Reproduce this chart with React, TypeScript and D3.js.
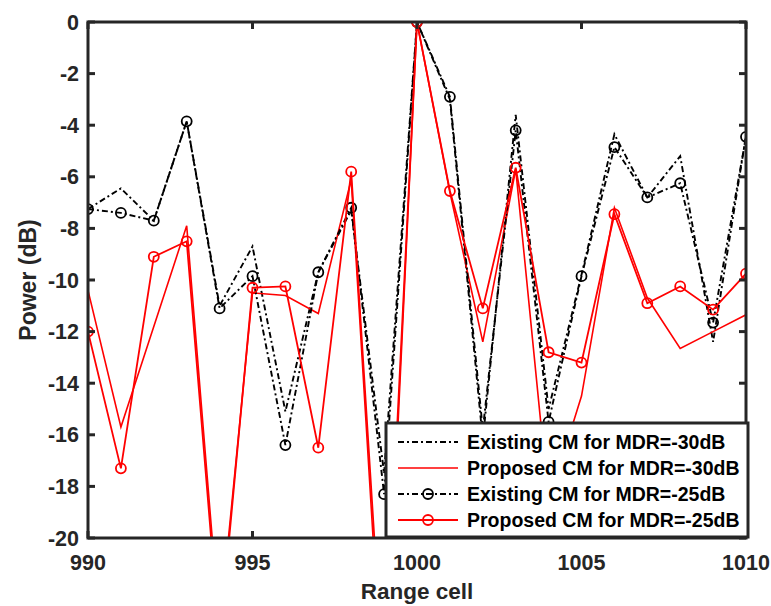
import React from "react";
import * as d3 from "d3";

const rangeCells = [990, 991, 992, 993, 994, 995, 996, 997, 998, 999, 1000, 1001, 1002, 1003, 1004, 1005, 1006, 1007, 1008, 1009, 1010];
const existing30 = [-7.25, -6.45, -7.7, -3.85, -11.0, -8.7, -15.1, -9.7, -7.3, -17.5, 0, -3.0, -16.2, -3.6, -15.0, -9.8, -4.35, -6.8, -5.2, -12.4, -4.4];
const proposed30 = [-10.4, -15.7, -11.8, -7.9, -23.5, -10.5, -10.6, -11.3, -6.1, -27, 0, -6.6, -12.4, -5.7, -18.6, -14.5, -7.2, -10.7, -12.65, -12.0, -11.35];
const existing25 = [-7.25, -7.4, -7.7, -3.85, -11.1, -9.85, -16.4, -9.7, -7.2, -18.3, 0, -2.9, -15.8, -4.2, -15.5, -9.85, -4.85, -6.8, -6.25, -11.65, -4.45];
const proposed25 = [-12.0, -17.3, -9.1, -8.5, -24.0, -10.3, -10.25, -16.5, -5.8, -26, 0, -6.55, -11.1, -5.65, -12.8, -13.2, -7.45, -10.9, -10.25, -11.15, -9.75];

const xTicks = [990, 995, 1000, 1005, 1010];
const yTicks = [0, -2, -4, -6, -8, -10, -12, -14, -16, -18, -20];
const legendLabels = [
  "Existing CM for MDR=-30dB",
  "Proposed CM for MDR=-30dB",
  "Existing CM for MDR=-25dB",
  "Proposed CM for MDR=-25dB",
];

const W = 771;
const H = 606;
const L = 88, R = 746, T = 22, B = 538;
const AX = "#262626";
const FONT = "'Liberation Sans', Arial, Helvetica, sans-serif";

export default function App() {
  const x = d3.scaleLinear().domain([990, 1010]).range([L, R]);
  const y = d3.scaleLinear().domain([-20, 0]).range([B, T]);
  const line = d3
    .line<number>()
    .x((_, i) => x(rangeCells[i]))
    .y((d) => y(d));

  const series = [
    { data: existing30, color: "#000", dash: "6,3,2,3", marker: false, width: 1.9 },
    { data: proposed30, color: "#ff0000", dash: undefined, marker: false, width: 1.6 },
    { data: existing25, color: "#000", dash: "6,3,2,3", marker: true, width: 1.9 },
    { data: proposed25, color: "#ff0000", dash: undefined, marker: true, width: 1.8 },
  ];

  const legX = 386, legY = 423, legW = 362, legH = 114;
  const rowY = [442, 468, 494, 520];

  return (
    <svg
      width={W}
      height={H}
      style={{ position: "absolute", left: 0, top: 0, background: "#fff" }}
      fontFamily={FONT}
    >
      <defs>
        <clipPath id="plotClip">
          <rect x={L} y={T} width={R - L} height={B - T} />
        </clipPath>
      </defs>
      <rect x={0} y={0} width={W} height={H} fill="#fff" />

      <g clipPath="url(#plotClip)">
        {series.map((s, si) => (
          <g key={si}>
            <path
              d={line(s.data) || ""}
              fill="none"
              stroke={s.color}
              strokeWidth={s.width}
              strokeDasharray={s.dash}
              strokeLinejoin="miter"
            />
            {s.marker &&
              s.data.map((v, i) => (
                <circle
                  key={i}
                  cx={x(rangeCells[i])}
                  cy={y(v)}
                  r={5}
                  fill="none"
                  stroke={s.color}
                  strokeWidth={1.8}
                />
              ))}
          </g>
        ))}
      </g>

      {/* axes box */}
      <rect x={L} y={T} width={R - L} height={B - T} fill="none" stroke={AX} strokeWidth={3} />
      {/* ticks */}
      {xTicks.map((t) => (
        <g key={"x" + t}>
          <line x1={x(t)} x2={x(t)} y1={B} y2={B - 7} stroke={AX} strokeWidth={3} />
          <line x1={x(t)} x2={x(t)} y1={T} y2={T + 7} stroke={AX} strokeWidth={3} />
          <text
            x={x(t)}
            y={B + 32}
            textAnchor="middle"
            fontSize={21.5}
            fontWeight="bold"
            fill={AX}
          >
            {t}
          </text>
        </g>
      ))}
      {yTicks.map((t) => (
        <g key={"y" + t}>
          <line x1={L} x2={L + 7} y1={y(t)} y2={y(t)} stroke={AX} strokeWidth={3} />
          <line x1={R} x2={R - 7} y1={y(t)} y2={y(t)} stroke={AX} strokeWidth={3} />
          <text
            x={L - 9}
            y={y(t) + 7.5}
            textAnchor="end"
            fontSize={21.5}
            fontWeight="bold"
            fill={AX}
          >
            {t}
          </text>
        </g>
      ))}

      <text
        x={(L + R) / 2}
        y={599}
        textAnchor="middle"
        fontSize={22.5}
        fontWeight="bold"
        fill={AX}
      >
        Range cell
      </text>
      <text
        transform={`translate(36,${(T + B) / 2}) rotate(-90)`}
        textAnchor="middle"
        fontSize={23}
        fontWeight="bold"
        fill={AX}
      >
        Power (dB)
      </text>

      {/* legend */}
      <rect x={legX} y={legY} width={legW} height={legH} fill="#fff" stroke={AX} strokeWidth={3} />
      {series.map((s, i) => (
        <g key={"leg" + i}>
          <line
            x1={398}
            x2={458}
            y1={rowY[i]}
            y2={rowY[i]}
            stroke={s.color}
            strokeWidth={s.width}
            strokeDasharray={s.dash}
          />
          {s.marker && (
            <circle cx={428} cy={rowY[i]} r={5} fill="none" stroke={s.color} strokeWidth={1.8} />
          )}
          <text
            x={467}
            y={rowY[i] + 7}
            fontSize={19.5}
            fontWeight="bold"
            fill="#000"
          >
            {legendLabels[i]}
          </text>
        </g>
      ))}
    </svg>
  );
}
